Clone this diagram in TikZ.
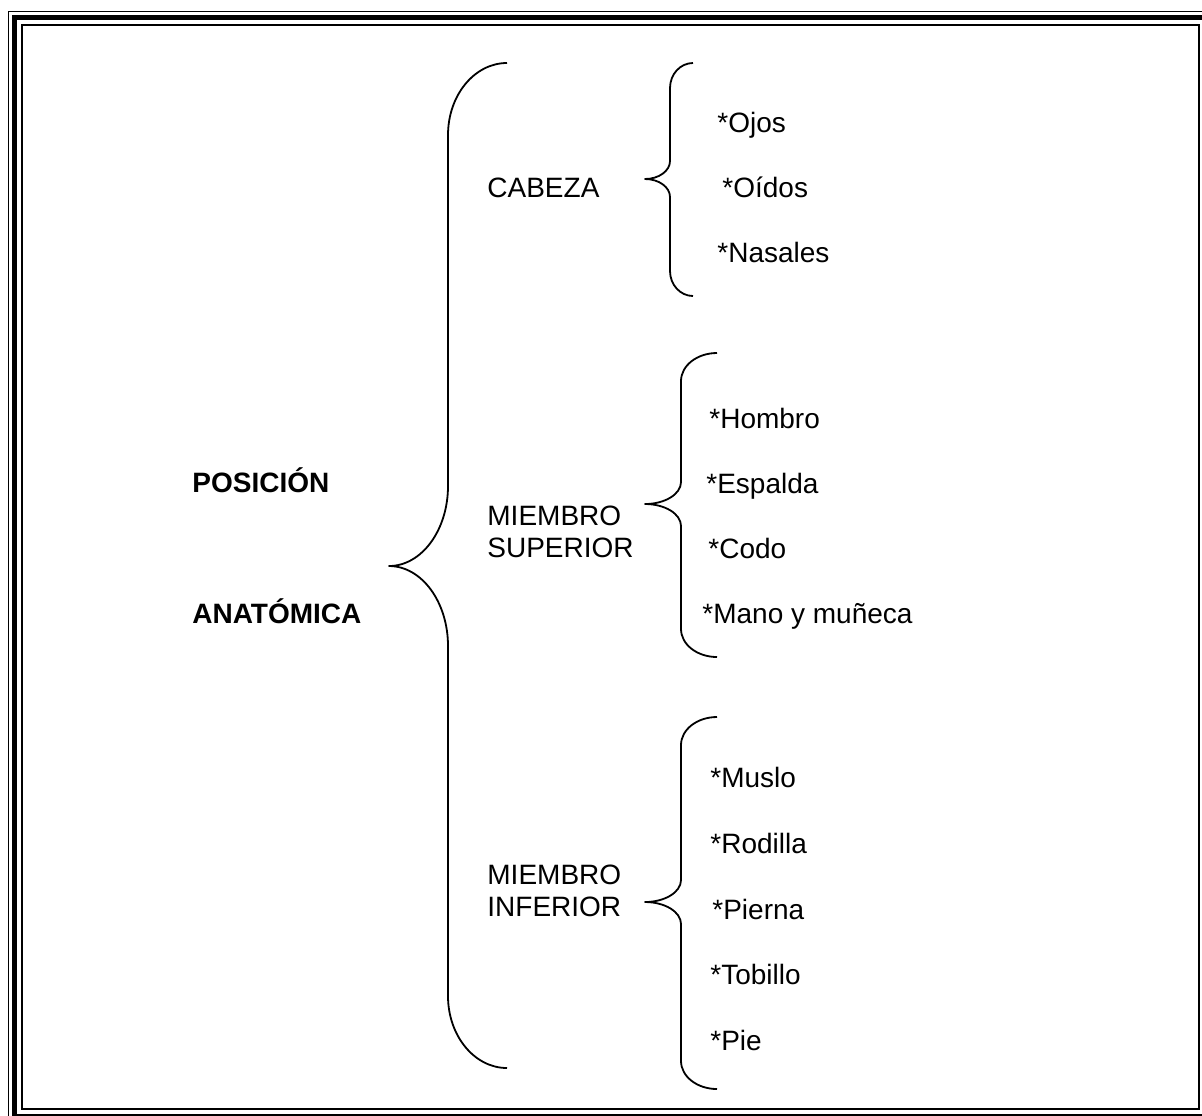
\documentclass[tikz,border=0pt]{standalone}
\usepackage{fontspec}
\setmainfont{Liberation Sans}
\usepackage{tikz}
\newcommand{\llave}[8]{% extremo, recta, punta, arriba, medio, abajo, radio extremo, radio medio
  \draw[llave] (#1,#4) .. controls ({#1-0.552*(#1-#2)},#4) and (#2,{#4+0.448*#7}) .. (#2,{#4+#7})
    -- (#2,{#5-#8}) .. controls (#2,{#5-0.448*#8}) and ({#3+0.552*(#2-#3)},#5) .. (#3,#5)
    .. controls ({#3+0.552*(#2-#3)},#5) and (#2,{#5+0.448*#8}) .. (#2,{#5+#8})
    -- (#2,{#6-#7}) .. controls (#2,{#6-0.448*#7}) and ({#1-0.552*(#1-#2)},#6) .. (#1,#6);}
\newcommand{\letra}{\fontsize{14}{16}\selectfont}
\tikzset{
  titulo/.style = {font=\letra\bfseries, inner sep=0pt, anchor=base west},
  rama/.style   = {font=\letra, align=left, inner sep=0pt, anchor=base west},
  item/.style   = {font=\letra, inner sep=0pt, anchor=base west},
  llave/.style  = {line width=0.9pt, line join=round},
  marco/.style  = {draw, line width=#1},
  marco/.default = 0.75pt,
}
\begin{document}
\begin{tikzpicture}[x=0.5pt, y=-0.5pt]
  \useasboundingbox (0,0) rectangle (1202,1115);
  % marco triple
  \draw[marco] (8.5,11.5) rectangle (1212,1122);
  \draw[marco=2.25pt] (14.5,17.5) rectangle (1206,1116);
  \draw[marco=1pt] (22,25) rectangle (1198.5,1108.5);

  \node[titulo] (pos) at (192,492) {POSICIÓN};
  \node[titulo] (ana) at (192,623) {ANATÓMICA};
  \llave{507}{448}{389}{63}{566}{1068}{72}{80}

  % base = ultima linea
  \node[rama] (cab) at (487,197) {CABEZA};
  \node[rama] (sup) at (487,557) {MIEMBRO\\SUPERIOR};
  \node[rama] (inf) at (487,916) {MIEMBRO\\INFERIOR};

  \llave{693}{670}{645}{63}{179}{296}{25}{18}
  \llave{717}{681}{645}{353}{504}{657}{28}{22}
  \llave{717}{681}{645}{717}{902}{1089}{28}{22}

  \node[item] (ojos) at (717,132) {*Ojos};
  \node[item] (oidos) at (722,197) {*Oídos};
  \node[item] (nasal) at (717,262) {*Nasales};

  \node[item] (hombro) at (709,428) {*Hombro};
  \node[item] (espalda) at (706,493) {*Espalda};
  \node[item] (codo) at (708,558) {*Codo};
  \node[item] (mano) at (702,623) {*Mano y muñeca};

  \node[item] (muslo) at (710,787) {*Muslo};
  \node[item] (rodilla) at (710,853) {*Rodilla};
  \node[item] (pierna) at (712,919) {*Pierna};
  \node[item] (tobillo) at (710,984) {*Tobillo};
  \node[item] (pie) at (710,1050) {*Pie};
\end{tikzpicture}
\end{document}
